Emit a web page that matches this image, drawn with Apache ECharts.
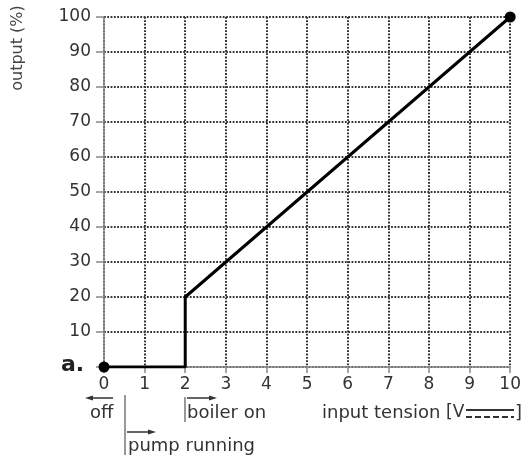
<!DOCTYPE html>
<html>
<head>
<meta charset="utf-8">
<script src="https://cdn.jsdelivr.net/npm/echarts@6/dist/echarts.min.js"></script>
<style>
  html, body { margin: 0; padding: 0; background: #fff; }
  #chart { width: 524px; height: 455px; }
</style>
</head>
<body>
<div id="chart"></div>
<script>
// input tension (V) -> output (%)
const tension = [0, 2, 2, 10]
const output = [0, 0, 20, 100]
const xTicks = [0, 1, 2, 3, 4, 5, 6, 7, 8, 9, 10]
const yTicks = [0, 10, 20, 30, 40, 50, 60, 70, 80, 90, 100]

const font = '"DejaVu Sans", Verdana, sans-serif'
const chart = echarts.init(document.getElementById('chart'), null, { renderer: 'canvas' })

const points = tension.map((t, i) => {
    const endPoint = i === 0 || i === tension.length - 1
    return { value: [t, output[i]], symbol: endPoint ? 'circle' : 'none' }
})

function arrow(x1, x2, y) {
    const dir = x2 > x1 ? 1 : -1
    return [
        { type: 'line', shape: { x1: x1, y1: y, x2: x2 - dir * 6, y2: y }, style: { stroke: '#333', lineWidth: 1.5 } },
        { type: 'polygon', shape: { points: [[x2, y], [x2 - dir * 8, y - 2.5], [x2 - dir * 8, y + 2.5]] }, style: { fill: '#333' } }
    ]
}

function label(text, x, y, extra) {
    return {
        type: 'text', x: x, y: y,
        style: Object.assign({ text: text, font: '18px ' + font, fill: '#333', verticalAlign: 'middle' }, extra || {})
    }
}

// dotted grid like the printed original
const gridLine = { show: true, lineStyle: { color: '#333', width: 2, type: [1.8, 1.5] } }

chart.setOption({
    animation: false,
    grid: { left: 104, right: 4, top: 17, bottom: 88 },
    xAxis: {
        type: 'value', min: 0, max: 10, interval: 1,
        axisLine: { show: true, lineStyle: { color: '#888', width: 1.5 } },
        axisTick: { show: true, length: 6, lineStyle: { color: '#888', width: 1.5 } },
        axisLabel: { margin: 9, fontSize: 17, fontFamily: font, color: '#333', formatter: v => xTicks.includes(v) ? String(v) : '' },
        splitLine: gridLine
    },
    yAxis: {
        type: 'value', min: 0, max: 100, interval: 10,
        axisLine: { show: true, lineStyle: { color: '#888', width: 1.5 } },
        axisTick: { show: true, length: 8, lineStyle: { color: '#888', width: 1.5 } },
        axisLabel: { margin: 13, fontSize: 17, fontFamily: font, color: '#333', formatter: v => (v === 0 || !yTicks.includes(v)) ? '' : String(v) },
        splitLine: gridLine
    },
    series: [{
        type: 'line',
        data: points,
        symbolSize: 11,
        lineStyle: { color: '#000', width: 3 },
        itemStyle: { color: '#000' },
        z: 5
    }],
    graphic: [
        {
            type: 'text', x: 18, y: 48, rotation: Math.PI / 2,
            style: { text: 'output (%)', font: '16px ' + font, fill: '#444', align: 'center', verticalAlign: 'middle' }
        },
        label('a.', 61, 365, { font: 'bold 22px ' + font, fill: '#222' }),
        ...arrow(113, 85, 398),
        label('off', 90, 413),
        { type: 'line', shape: { x1: 125, y1: 395, x2: 125, y2: 455 }, style: { stroke: '#555', lineWidth: 1.2 } },
        ...arrow(127, 156, 432),
        label('pump running', 128, 446),
        { type: 'line', shape: { x1: 185, y1: 397, x2: 185, y2: 422 }, style: { stroke: '#555', lineWidth: 1.2 } },
        ...arrow(187, 217, 398),
        label('boiler on', 187, 413),
        label('input tension', 322, 413),
        label('[V', 446, 413, { font: '17px ' + font }),
        { type: 'line', shape: { x1: 466, y1: 410, x2: 514, y2: 410 }, style: { stroke: '#333', lineWidth: 2 } },
        { type: 'line', shape: { x1: 466, y1: 417, x2: 514, y2: 417 }, style: { stroke: '#333', lineWidth: 2, lineDash: [6, 3] } },
        label(']', 515, 413)
    ]
})
</script>
</body>
</html>
